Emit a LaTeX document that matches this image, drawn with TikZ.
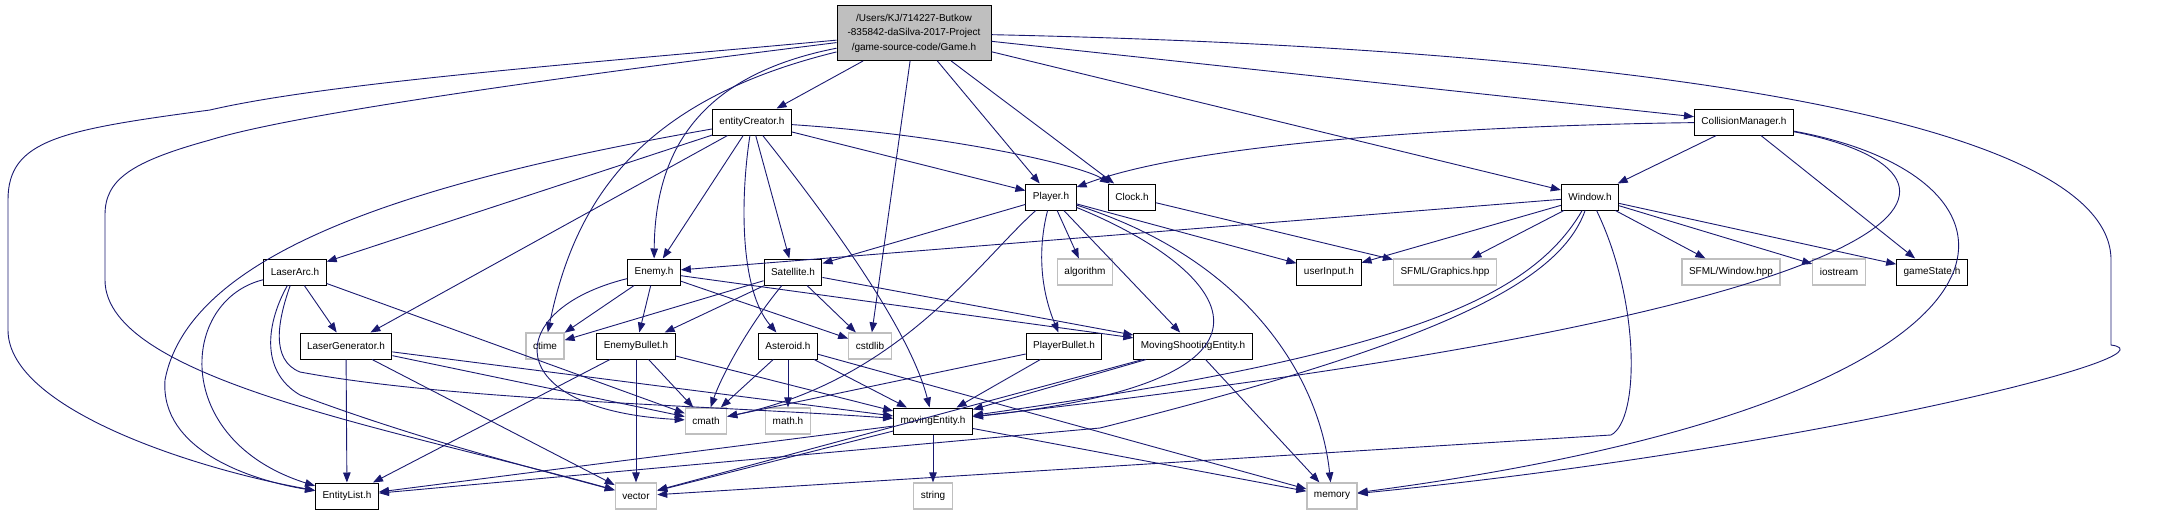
\documentclass[tikz,border=0pt]{standalone}
\usepackage{fontspec}
\setmainfont{Liberation Sans}
\usetikzlibrary{arrows.meta}

\definecolor{edgeblue}{HTML}{191970}
\definecolor{extgray}{HTML}{BFBFBF}

\begin{document}
\begin{tikzpicture}[
    x=1pt, y=-1pt,
    hdr/.style={draw=black, line width=1pt, fill=white, inner xsep=7pt, minimum height=26pt, font=\fontsize{10}{12}\selectfont},
    sys/.style={hdr, draw=extgray, line width=1.3pt},
    root/.style={hdr, fill=extgray, align=center, minimum width=154pt, minimum height=55pt, font=\fontsize{10}{14.5}\selectfont},
    dep/.style={-{Triangle[length=10pt,width=7.5pt]}, line width=0.9pt, edgeblue}
]
\useasboundingbox (0,0) rectangle (2182,515);

% top and first rows
\node[root] (game) at (914,33) {/Users/KJ/714227-Butkow\\-835842-daSilva-2017-Project\\/game-source-code/Game.h};
\node[hdr] (entitycreator) at (752,122) {entityCreator.h};
\node[hdr] (collisionmanager) at (1744,122) {CollisionManager.h};
\node[hdr] (player) at (1051,197) {Player.h};
\node[hdr] (clock) at (1132,197) {Clock.h};
\node[hdr] (window) at (1590,197) {Window.h};

% third row
\node[hdr] (laserarc) at (295,272) {LaserArc.h};
\node[hdr] (enemy) at (654,272) {Enemy.h};
\node[hdr] (satellite) at (793,272) {Satellite.h};
\node[sys] (algorithm) at (1085,272) {algorithm};
\node[hdr] (userinput) at (1329,272) {userInput.h};
\node[sys] (sfmlgraphics) at (1445,272) {SFML/Graphics.hpp};
\node[sys] (sfmlwindow) at (1731,272) {SFML/Window.hpp};
\node[sys] (iostream) at (1839,272) {iostream};
\node[hdr] (gamestate) at (1932,272) {gameState.h};

% fourth row
\node[hdr] (lasergenerator) at (346,346) {LaserGenerator.h};
\node[sys] (ctime) at (545,346) {ctime};
\node[hdr] (enemybullet) at (636,346) {EnemyBullet.h};
\node[hdr] (asteroid) at (788,346) {Asteroid.h};
\node[sys] (cstdlib) at (870,346) {cstdlib};
\node[hdr] (playerbullet) at (1064,346) {PlayerBullet.h};
\node[hdr] (movingshooting) at (1193,346) {MovingShootingEntity.h};

% fifth and last rows
\node[sys] (cmath) at (706,421) {cmath};
\node[sys] (mathh) at (788,421) {math.h};
\node[hdr] (movingentity) at (933,421) {movingEntity.h};
\node[hdr] (entitylist) at (347,496) {EntityList.h};
\node[sys] (vector) at (636,496) {vector};
\node[sys] (string) at (933,496) {string};
\node[sys] (memory) at (1332,496) {memory};

% Game.h
\draw[dep] (game) -- (entitycreator);
\draw[dep] (game) -- (player);
\draw[dep] (game) -- (clock);
\draw[dep] (game) -- (window);
\draw[dep] (game) -- (collisionmanager);
\draw[dep] (game) -- (cstdlib);
\draw[dep] (game) .. controls (700,75) and (655,150) .. (enemy);
\draw[dep] (game) .. controls (640,100) and (575,200) .. (ctime);
\draw[dep] (game) .. controls (600,62) and (330,82) .. (210,110) .. controls (60,130) and (8,140) .. (8,200) -- (8,330) .. controls (8,410) and (200,470) .. (entitylist);
\draw[dep] (game) .. controls (600,72) and (300,112) .. (210,140) .. controls (130,162) and (105,180) .. (105,215) -- (105,280) .. controls (105,380) and (400,430) .. (vector);
\draw[dep] (game) .. controls (1700,50) and (2111,130) .. (2111,260) -- (2111,345) .. controls (2185,355) and (1800,450) .. (memory);

% entityCreator.h
\draw[dep] (entitycreator) -- (player);
\draw[dep] (entitycreator) .. controls (950,135) and (1080,165) .. (clock);
\draw[dep] (entitycreator) -- (laserarc);
\draw[dep] (entitycreator) -- (lasergenerator);
\draw[dep] (entitycreator) -- (enemy);
\draw[dep] (entitycreator) -- (satellite);
\draw[dep] (entitycreator) .. controls (740,200) and (740,290) .. (asteroid);
\draw[dep] (entitycreator) .. controls (830,220) and (910,330) .. (movingentity);
\draw[dep] (entitycreator) .. controls (420,180) and (190,250) .. (165,380) .. controls (160,450) and (250,480) .. (entitylist);

% CollisionManager.h
\draw[dep] (collisionmanager) .. controls (1500,125) and (1200,140) .. (player);
\draw[dep] (collisionmanager) -- (window);
\draw[dep] (collisionmanager) -- (gamestate);
\draw[dep] (collisionmanager) .. controls (1990,170) and (2010,300) .. (movingentity);
\draw[dep] (collisionmanager) .. controls (2060,180) and (2060,400) .. (memory);

% Player.h
\draw[dep] (player) -- (satellite);
\draw[dep] (player) -- (algorithm);
\draw[dep] (player) -- (movingshooting);
\draw[dep] (player) -- (userinput);
\draw[dep] (player) .. controls (1035,260) and (1045,300) .. (playerbullet);
\draw[dep] (player) .. controls (980,260) and (900,380) .. (cmath);
\draw[dep] (player) .. controls (1230,270) and (1320,380) .. (movingentity);
\draw[dep] (player) .. controls (1250,260) and (1320,380) .. (memory);

% Clock.h
\draw[dep] (clock) -- (sfmlgraphics);

% Window.h
\draw[dep] (window) -- (enemy);
\draw[dep] (window) -- (userinput);
\draw[dep] (window) -- (sfmlgraphics);
\draw[dep] (window) -- (sfmlwindow);
\draw[dep] (window) -- (iostream);
\draw[dep] (window) -- (gamestate);
\draw[dep] (window) .. controls (1530,300) and (1400,355) .. (movingentity);
\draw[dep] (window) .. controls (1560,280) and (1450,340) .. (1100,428) -- (entitylist);
\draw[dep] (window) .. controls (1640,300) and (1640,420) .. (1611,435) -- (vector);

% LaserArc.h and LaserGenerator.h
\draw[dep] (laserarc) -- (lasergenerator);
\draw[dep] (laserarc) -- (cmath);
\draw[dep] (laserarc) .. controls (180,300) and (170,440) .. (entitylist);
\draw[dep] (laserarc) .. controls (268,320) and (258,370) .. (300,395) .. controls (420,440) and (540,470) .. (vector);
\draw[dep] (laserarc) .. controls (278,320) and (270,360) .. (300,372) .. controls (450,400) and (700,405) .. (movingentity);
\draw[dep] (lasergenerator) -- (entitylist);
\draw[dep] (lasergenerator) -- (vector);
\draw[dep] (lasergenerator) -- (cmath);
\draw[dep] (lasergenerator) -- (movingentity);

% Enemy.h and Satellite.h
\draw[dep] (enemy) -- (ctime);
\draw[dep] (enemy) -- (enemybullet);
\draw[dep] (enemy) -- (cstdlib);
\draw[dep] (enemy) -- (movingshooting);
\draw[dep] (enemy) .. controls (500,310) and (500,410) .. (cmath);
\draw[dep] (satellite) -- (ctime);
\draw[dep] (satellite) -- (enemybullet);
\draw[dep] (satellite) -- (cstdlib);
\draw[dep] (satellite) -- (movingshooting);
\draw[dep] (satellite) .. controls (745,330) and (720,380) .. (cmath);

% fourth row
\draw[dep] (enemybullet) -- (entitylist);
\draw[dep] (enemybullet) -- (vector);
\draw[dep] (enemybullet) -- (cmath);
\draw[dep] (enemybullet) -- (movingentity);
\draw[dep] (asteroid) -- (cmath);
\draw[dep] (asteroid) -- (mathh);
\draw[dep] (asteroid) -- (movingentity);
\draw[dep] (asteroid) -- (memory);
\draw[dep] (playerbullet) -- (cmath);
\draw[dep] (playerbullet) -- (movingentity);
\draw[dep] (movingshooting) -- (movingentity);
\draw[dep] (movingshooting) -- (vector);
\draw[dep] (movingshooting) -- (memory);

% movingEntity.h
\draw[dep] (movingentity) -- (entitylist);
\draw[dep] (movingentity) -- (vector);
\draw[dep] (movingentity) -- (string);
\draw[dep] (movingentity) -- (memory);
\end{tikzpicture}
\end{document}
